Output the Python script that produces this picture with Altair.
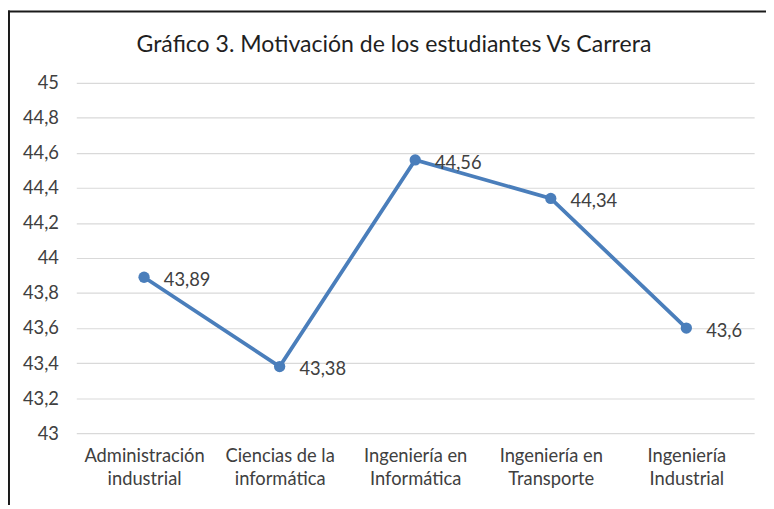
import altair as alt
import pandas as pd

categories = ["Administración\nindustrial", "Ciencias de la\ninformática", "Ingeniería en\nInformática",
              "Ingeniería en\nTransporte", "Ingeniería\nIndustrial"]
values = [43.89, 43.38, 44.56, 44.34, 43.6]
y_ticks = [43, 43.2, 43.4, 43.6, 43.8, 44, 44.2, 44.4, 44.6, 44.8, 45]
title_text = "Gráfico 3. Motivación de los estudiantes Vs Carrera"

df = pd.DataFrame({"cat": categories, "val": values})
one = pd.DataFrame({"t": [title_text]})

FONT = "Lato"
LINE = "#4a7ebb"
W, H = 685, 354

x = alt.X("cat:N", sort=categories, title=None,
          scale=alt.Scale(paddingInner=0, paddingOuter=0.5),
          axis=alt.Axis(labelAngle=0, labelExpr="split(datum.label, '\\n')", labelFontSize=18.5,
                        labelColor="#404040", labelFont=FONT, labelPadding=14, labelLineHeight=23,
                        ticks=False, domain=False, grid=False, labelBaseline="top"))
y = alt.Y("val:Q", title=None, scale=alt.Scale(domain=[43, 45], nice=False, zero=False),
          axis=alt.Axis(values=y_ticks, labelExpr="replace(format(datum.value, '.1~f'), '.', ',')",
                        labelFontSize=18.5, labelColor="#404040", labelFont=FONT, labelPadding=18,
                        ticks=False, domain=False, gridColor="#d9d9d9", gridWidth=1.2))

base = alt.Chart(df).encode(x=x, y=y)
line = base.mark_line(color=LINE, strokeWidth=3.8)
pts = base.mark_point(filled=True, color=LINE, size=130, opacity=1)
labels = base.transform_calculate(
    lab="replace(toString(datum.val), '.', ',')"
).mark_text(align="left", baseline="middle", dx=20, dy=3, fontSize=18.5, font=FONT,
            fontWeight=400, color="#404040").encode(text="lab:N")

border_top = alt.Chart(one).mark_rule(color="#1a1a1a", strokeWidth=2).encode(
    x=alt.value(-69), x2=alt.value(W + 20), y=alt.value(-72))
border_left = alt.Chart(one).mark_rule(color="#1a1a1a", strokeWidth=2).encode(
    x=alt.value(-68), y=alt.value(-73), y2=alt.value(H + 80))
title = alt.Chart(one).mark_text(fontSize=23.3, font=FONT, fontWeight="normal", color="#1f1f1f",
                                 align="center", baseline="middle").encode(
    x=alt.value(321), y=alt.value(-38), text="t:N")

chart = alt.layer(line, pts, labels, border_top, border_left, title).properties(
    width=W, height=H,
    autosize=alt.AutoSizeParams(type="none"),
    padding={"left": 69, "top": 73, "right": 12, "bottom": 70},
).configure_view(stroke=None)

chart.save("out.html", embed_options={"renderer": "svg", "actions": False})
